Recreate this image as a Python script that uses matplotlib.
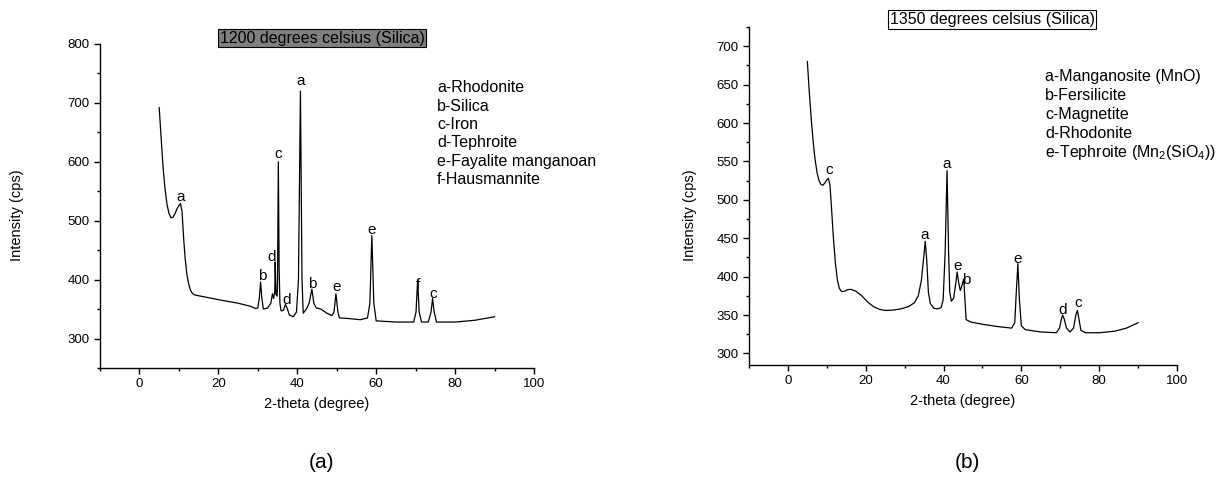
import matplotlib
matplotlib.use("Agg")
import matplotlib.pyplot as plt
from matplotlib.ticker import MultipleLocator

plt.rcParams["font.family"] = ["Liberation Sans", "DejaVu Sans"]
plt.rcParams["mathtext.fontset"] = "custom"
plt.rcParams["mathtext.rm"] = "Liberation Sans"
plt.rcParams["mathtext.it"] = "Liberation Sans:italic"

# (a) 1200 C trace
two_theta_a = [5.0, 5.5, 6.0, 6.5, 7.0, 7.5, 8.0, 8.5, 9.0, 9.5, 10.0, 10.4, 10.8, 11.2, 11.6,
               12.0, 12.5, 13.0, 13.5, 14.0, 20.0, 25.0, 28.0, 29.5, 30.0, 30.4, 30.7, 31.0,
               31.4, 32.5, 33.3, 33.7, 34.0, 34.3, 34.4, 34.6, 34.9, 35.0, 35.2, 35.4, 35.6,
               35.9, 36.5, 37.0, 37.4, 38.0, 39.0, 39.8, 40.3, 40.8, 41.2, 41.5, 42.3, 43.0,
               43.7, 44.2, 44.8, 46.0, 47.5, 48.8, 49.3, 49.8, 50.3, 50.7, 53.0, 56.0, 57.8,
               58.4, 58.9, 59.4, 60.0, 65.0, 69.5, 70.1, 70.5, 70.9, 71.5, 73.2, 73.9, 74.3,
               74.7, 75.3, 80.0, 85.0, 90.0]
intensity_a = [692, 640, 590, 553, 527, 512, 505, 506, 512, 520, 526, 529, 515, 470, 435,
               410, 392, 381, 376, 374, 366, 360, 355, 351, 352, 370, 396, 370,
               350, 352, 360, 376, 368, 380, 430, 375, 372, 400, 600, 420, 360,
               347, 348, 358, 352, 340, 337, 345, 400, 720, 400, 343, 350, 360,
               384, 360, 352, 350, 343, 339, 345, 376, 345, 335, 334, 332, 335,
               360, 475, 360, 330, 328, 328, 345, 399, 345, 328, 328, 345, 368,
               345, 328, 328, 331, 337]

# (b) 1350 C trace
two_theta_b = [5.0, 5.5, 6.0, 6.5, 7.0, 7.5, 8.0, 8.5, 9.0, 9.5, 10.0, 10.4, 10.8, 11.2, 11.7,
               12.2, 12.7, 13.2, 13.8, 14.5, 15.3, 16.2, 17.5, 19.0, 20.5, 22.0, 23.5, 25.0,
               27.0, 29.0, 31.0, 32.5, 33.5, 34.3, 34.9, 35.3, 35.7, 36.1, 36.6, 37.5, 38.5,
               39.4, 39.9, 40.4, 40.9, 41.3, 41.6, 42.0, 42.6, 43.1, 43.5, 43.9, 44.3, 44.7,
               45.2, 45.5, 45.8, 47.0, 50.0, 54.0, 57.5, 58.3, 58.7, 59.1, 59.5, 60.0, 61.0,
               65.0, 69.0, 69.8, 70.3, 70.6, 71.0, 71.6, 72.5, 73.4, 74.0, 74.4, 74.8, 75.3,
               76.5, 80.0, 84.0, 87.0, 90.0]
intensity_b = [680, 640, 605, 575, 552, 535, 525, 520, 519, 522, 526, 528, 520, 490, 450,
               418, 396, 385, 380.5, 381, 383, 383.5, 381, 375, 367, 361, 357.5, 356,
               356.5, 358, 361, 366, 375, 395, 425, 446, 420, 380, 365, 359, 358,
               360, 370, 430, 538, 430, 380, 368, 372, 390, 406, 392, 382, 388,
               397, 370, 344, 341, 338, 335, 333, 340, 380, 417, 370, 336, 331,
               328, 327, 333, 345, 350, 345, 333, 328, 333, 350, 356, 345, 330,
               327, 327, 329, 333, 340]

# peak letters: x, baseline y, letter
peak_x_a = [10.4, 31.0, 33.4, 35.2, 37.3, 40.8, 43.7, 50.0, 58.8, 70.5, 74.5]
peak_y_a = [533, 400, 432, 606, 358, 731, 386, 380, 478, 384, 369]
peak_txt_a = ["a", "b", "d", "c", "d", "a", "b", "e", "e", "f", "c"]

peak_x_b = [10.6, 35.2, 40.9, 43.6, 45.8, 59.0, 70.5, 74.6]
peak_y_b = [533, 449, 542, 409, 390, 418, 352, 360]
peak_txt_b = ["c", "a", "a", "e", "b", "e", "d", "c"]

phases_a = ["a-Rhodonite", "b-Silica", "c-Iron", "d-Tephroite",
            "e-Fayalite manganoan", "f-Hausmannite"]
phases_b = ["a-Manganosite (MnO)", "b-Fersilicite", "c-Magnetite", "d-Rhodonite",
            r"e-Tephroite (Mn$_2$(SiO$_4$))"]

W, H = 1218, 479
fig = plt.figure(figsize=(W / 100, H / 100), dpi=100)

ax1 = fig.add_axes([100 / W, 1 - 368 / H, 434 / W, 324 / H])
ax2 = fig.add_axes([749 / W, 1 - 365 / H, 428 / W, 338 / H])


def style(ax, ylim, major, minor):
    ax.set_xlim(-10, 100)
    ax.set_ylim(*ylim)
    for s in ["top", "right"]:
        ax.spines[s].set_visible(False)
    for s in ["left", "bottom"]:
        ax.spines[s].set_linewidth(1.0)
    ax.xaxis.set_major_locator(MultipleLocator(20))
    ax.xaxis.set_minor_locator(MultipleLocator(10))
    ax.yaxis.set_major_locator(MultipleLocator(major))
    ax.yaxis.set_minor_locator(MultipleLocator(minor))
    ax.tick_params(which="major", direction="out", length=4.3, width=1.0, labelsize=9.5, pad=3)
    ax.tick_params(which="minor", direction="out", length=2.5, width=1.0)
    ax.set_xlabel("2-theta (degree)", fontsize=10.5, labelpad=5)


ax1.plot(two_theta_a, intensity_a, color="black", lw=0.9)
style(ax1, (250, 800), 100, 50)
for x, y, t in zip(peak_x_a, peak_y_a, peak_txt_a):
    ax1.text(x, y, t, ha="center", va="baseline", fontsize=11)

ax2.plot(two_theta_b, intensity_b, color="black", lw=0.9)
style(ax2, (285, 725), 50, 25)
for x, y, t in zip(peak_x_b, peak_y_b, peak_txt_b):
    ax2.text(x, y, t, ha="center", va="baseline", fontsize=11)

fig.text(17 / W, 1 - 215 / H, "Intensity (cps)", rotation=90, ha="center", va="center", fontsize=10.5)
fig.text(690 / W, 1 - 215 / H, "Intensity (cps)", rotation=90, ha="center", va="center", fontsize=10.5)

fig.text(322 / W, 1 - 38 / H, "1200 degrees celsius (Silica)", ha="center", va="center", fontsize=11.5,
         bbox=dict(boxstyle="square,pad=0.12", facecolor="#808080", edgecolor="black", lw=0.8))
fig.text(992 / W, 1 - 19.5 / H, "1350 degrees celsius (Silica)", ha="center", va="center", fontsize=11.5,
         bbox=dict(boxstyle="square,pad=0.12", facecolor="white", edgecolor="black", lw=0.8))

for i, t in enumerate(phases_a):
    fig.text(437 / W, 1 - (88 + 18.3 * i) / H, t, ha="left", va="center", fontsize=11.5)
for i, t in enumerate(phases_b):
    fig.text(1045 / W, 1 - (77 + 18.8 * i) / H, t, ha="left", va="center", fontsize=11.5)

fig.text(322 / W, 1 - 463 / H, "(a)", ha="center", va="center", fontsize=15)
fig.text(967 / W, 1 - 463 / H, "(b)", ha="center", va="center", fontsize=15)

fig.savefig("out.png", dpi=100)
